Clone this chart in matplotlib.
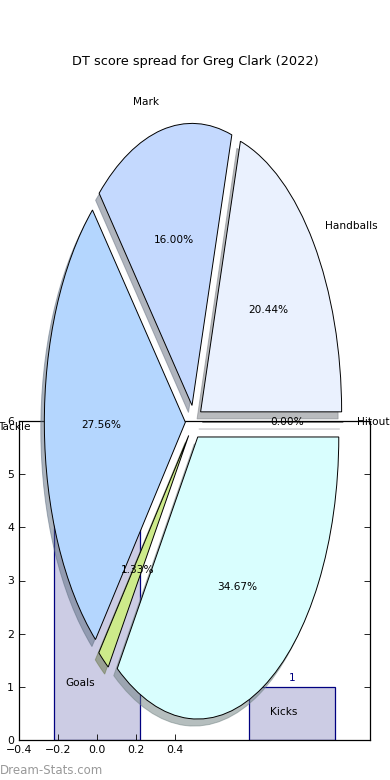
import matplotlib
matplotlib.use("Agg")
import matplotlib.pyplot as plt

# pie data (DT points per stat)
labels = ["Hitout", "Handballs", "Mark", "Tackle", "Goals", "Kicks"]
points = [0, 46, 36, 62, 3, 78]
colors = ["#e0e0f0", "#eaf1fe", "#c4d9fe", "#b4d6fe", "#cdea8a", "#d9fefe"]

# bar data behind the pie
bar_x = [0, 1]
bar_heights = [6, 1]
bar_labels = ["6", "1"]
x_ticks = [-0.4, -0.2, 0.0, 0.2, 0.4]

fig = plt.figure(figsize=(3.9, 7.8), dpi=100)

# bar axes (drawn first, underneath)
ax_bar = fig.add_axes([19 / 390, 40 / 780, 351 / 390, 319 / 780])
ax_bar.bar(bar_x, bar_heights, width=0.44, color="#ccccE4", edgecolor="#000080", linewidth=0.9)
for x, h, t in zip(bar_x, bar_heights, bar_labels):
    ax_bar.text(x, h + 0.08, t, ha="center", va="bottom", color="#000080", fontsize=7.6)
ax_bar.set_xlim(-0.4, 1.4)
ax_bar.set_ylim(0, 6)
ax_bar.set_xticks(x_ticks)
ax_bar.set_yticks(range(0, 7))
ax_bar.tick_params(direction="in", right=True, labelsize=7.8, length=4, width=0.6)
for s in ax_bar.spines.values():
    s.set_linewidth(0.9)

# pie axes on top
ax_pie = fig.add_axes([0.045, 0.007, 0.904, 0.904])
ax_pie.patch.set_alpha(0)
wedges, texts, autotexts = ax_pie.pie(
    points, labels=labels, colors=colors, explode=[0.06] * len(points),
    autopct="%1.2f%%", shadow={"ox": -0.018, "oy": -0.018, "shade": 0.5},
    startangle=0,
    wedgeprops={"edgecolor": "black", "linewidth": 0.7},
    textprops={"fontsize": 7.6},
)
ax_pie.set_aspect("auto")
ax_pie.set_xlim(-1.25, 1.25)
ax_pie.set_ylim(-1.25, 1.25)

fig.text(0.5, 1 - 61 / 780, "DT score spread for Greg Clark (2022)",
         ha="center", va="center", fontsize=9.3)
fig.text(0.0, 1 - 770 / 780, "Dream-Stats.com", ha="left", va="center",
         fontsize=8.5, color="#999999")

fig.savefig("out.png", dpi=100)
